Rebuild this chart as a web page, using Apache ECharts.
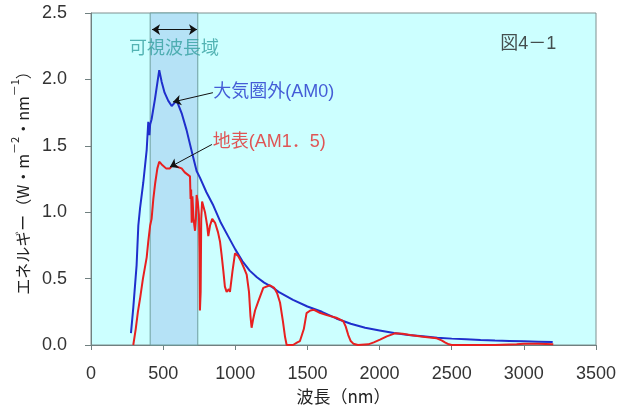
<!DOCTYPE html>
<html><head><meta charset="utf-8">
<script src="https://cdn.jsdelivr.net/npm/echarts@6/dist/echarts.min.js"></script>
<style>html,body{margin:0;padding:0;background:#fff}#c{width:631px;height:410px}</style>
</head><body><div id="c"></div>
<script>
const xTicks = [0,500,1000,1500,2000,2500,3000,3500];
const yTicks = [0.0,0.5,1.0,1.5,2.0,2.5];
const visibleBand = [410, 740];
const am0 = [[277,0.09],[293,0.28],[316,0.6],[328,0.9],[340,1.03],[362,1.22],[386,1.47],[397,1.68],[405,1.58],[410,1.66],[420,1.70],[443,1.85],[473,2.07],[490,1.98],[510,1.90],[535,1.84],[559,1.80],[594,1.84],[630,1.74],[662,1.62],[700,1.45],[732,1.31],[755,1.26],[800,1.15],[848,1.05],[900,0.92],[950,0.82],[1000,0.72],[1050,0.63],[1100,0.56],[1150,0.51],[1200,0.47],[1250,0.44],[1300,0.40],[1400,0.34],[1500,0.29],[1600,0.25],[1700,0.20],[1800,0.16],[1900,0.13],[2000,0.11],[2100,0.09],[2200,0.075],[2300,0.065],[2400,0.055],[2500,0.048],[2600,0.043],[2700,0.038],[2800,0.034],[2900,0.031],[3000,0.028],[3100,0.025],[3200,0.022]];
const am15 = [[293,0],[310,0.12],[325,0.25],[340,0.35],[360,0.5],[386,0.66],[397,0.78],[410,0.9],[420,0.95],[432,1.1],[445,1.22],[460,1.33],[473,1.38],[490,1.36],[501,1.35],[520,1.33],[547,1.33],[570,1.36],[600,1.34],[628,1.33],[650,1.30],[663,1.29],[686,1.27],[690,1.10],[694,1.17],[698,0.92],[703,1.12],[710,0.96],[716,0.90],[721,0.86],[727,0.95],[732,1.13],[740,1.08],[748,0.98],[752,0.70],[755,0.26],[760,0.40],[764,0.95],[770,1.08],[790,1.00],[805,0.90],[813,0.82],[825,0.90],[840,0.95],[860,0.92],[880,0.85],[894,0.78],[905,0.68],[917,0.56],[928,0.44],[940,0.40],[955,0.42],[963,0.40],[980,0.55],[998,0.69],[1020,0.67],[1040,0.63],[1060,0.58],[1079,0.53],[1095,0.40],[1105,0.22],[1113,0.13],[1125,0.20],[1137,0.26],[1160,0.33],[1194,0.43],[1240,0.45],[1270,0.43],[1290,0.39],[1310,0.32],[1330,0.18],[1345,0.06],[1356,0],[1400,0],[1430,0.02],[1448,0.03],[1460,0.07],[1475,0.12],[1494,0.24],[1520,0.26],[1545,0.265],[1580,0.245],[1633,0.225],[1700,0.205],[1748,0.18],[1765,0.14],[1783,0.075],[1800,0.03],[1818,0.01],[1850,0],[1922,0.005],[1960,0.02],[2003,0.04],[2050,0.065],[2107,0.088],[2160,0.085],[2211,0.075],[2300,0.063],[2396,0.05],[2430,0.035],[2453,0.02],[2480,0.005],[2500,0],[2600,0],[2800,0],[2950,0.005],[3000,0.01],[3100,0.01],[3204,0.005]];
const bandArrow = [[423,2.375],[735,2.375]];
const am0Arrow = [[845,1.90],[568,1.83]];
const am15Arrow = [[838,1.51],[547,1.34]];
const notes = [
  {text:'可視波長域', pos:[575,2.225], color:'#35a0a0', align:'center', size:18},
  {text:'大気圏外(AM0)', pos:[848,1.905], color:'#2233cc', align:'left', size:18},
  {text:'地表(AM1．5)', pos:[843,1.53], color:'#e42a2a', align:'left', size:18},
  {text:'図4－1', pos:[3030,2.265], color:'#222', align:'center', size:18}
];
const FONT = '"Liberation Sans","Noto Sans CJK JP",sans-serif';
const CJK = '"Noto Sans CJK JP",sans-serif';
const chart = echarts.init(document.getElementById('c'));
chart.setOption({
  animation:false,
  textStyle:{fontFamily:FONT},
  grid:{left:91,right:35,top:13,bottom:63,show:true,backgroundColor:'#ccffff',borderColor:'#7f9090',borderWidth:1},
  xAxis:{type:'value',min:xTicks[0],max:xTicks[xTicks.length-1],interval:500,
    name:'波長（nm）',nameLocation:'middle',nameGap:43,nameTextStyle:{fontSize:17,color:'#222',fontFamily:CJK},
    axisLine:{lineStyle:{color:'#708080',width:1}},axisTick:{show:true,length:5,lineStyle:{color:'#708080'}},
    axisLabel:{fontSize:18,color:'#333',margin:20,formatter:v=>String(v)},splitLine:{show:false}},
  yAxis:{type:'value',min:yTicks[0],max:yTicks[yTicks.length-1],interval:0.5,
    name:'{a|エネルギー（W・m}{s|－2}{a|・nm}{s|－1}{a|）}',nameLocation:'middle',nameGap:56,
    nameTextStyle:{color:'#222',fontFamily:CJK,rich:{
      a:{fontSize:16,fontFamily:CJK,color:'#222',lineHeight:22,verticalAlign:'bottom'},
      s:{fontSize:11,fontFamily:CJK,color:'#222',lineHeight:22,verticalAlign:'top',padding:[0,0,8,0]}}},
    axisLine:{show:true,lineStyle:{color:'#708080',width:1}},axisTick:{show:true,length:6,lineStyle:{color:'#708080'}},
    axisLabel:{fontSize:18,color:'#333',margin:24,formatter:v=>v.toFixed(1)},splitLine:{show:false}},
  series:[
    {type:'line',name:'band',data:[],silent:true,
      markArea:{silent:true,itemStyle:{color:'#b5e2f6',borderColor:'#6f9f9f',borderWidth:1},
        data:[[{xAxis:visibleBand[0]},{xAxis:visibleBand[1]}]]},
      markLine:{silent:true,symbolSize:8,animation:false,label:{show:false},lineStyle:{color:'#111',width:1,type:'solid'},
        data:[
          [{coord:bandArrow[0],symbol:'arrow'},{coord:bandArrow[1],symbol:'arrow'}],
          [{coord:am0Arrow[0],symbol:'none'},{coord:am0Arrow[1],symbol:'arrow'}],
          [{coord:am15Arrow[0],symbol:'none'},{coord:am15Arrow[1],symbol:'arrow'}]
        ]}},
    {type:'line',name:'AM0',data:am0,showSymbol:false,lineStyle:{color:'#1f2fcc',width:2},itemStyle:{color:'#1f2fcc'},z:3},
    {type:'line',name:'AM1.5',data:am15,showSymbol:false,lineStyle:{color:'#e82020',width:2},itemStyle:{color:'#e82020'},z:4},
    {type:'scatter',name:'notes',symbolSize:0,silent:true,z:6,
      data:notes.map(n=>({value:n.pos,label:{show:true,formatter:n.text,position:n.align==='left'?'right':'inside',distance:0,
        color:n.color,fontSize:n.size,fontFamily:FONT}}))}
  ]
});
</script></body></html>
